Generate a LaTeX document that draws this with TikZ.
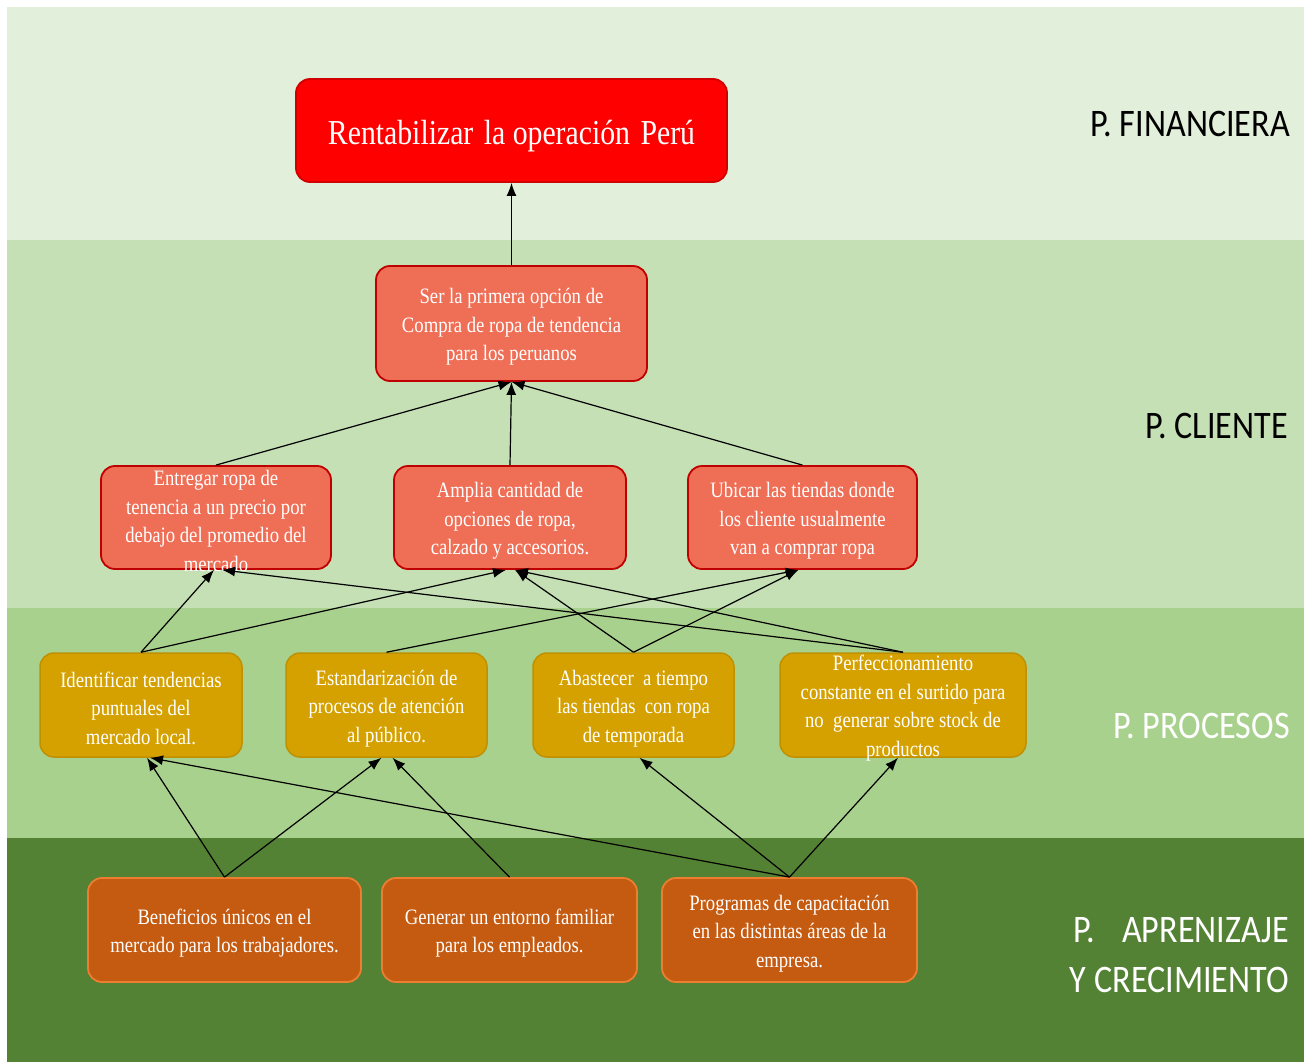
\documentclass[tikz,border=0pt]{standalone}
\usepackage{fontspec}
\setmainfont{Liberation Serif}[FakeStretch=0.85]
\newfontfamily\lblfont{Carlito}[FakeStretch=0.875]
\usetikzlibrary{arrows.meta}
\definecolor{bandA}{HTML}{E2EFDA}
\definecolor{bandB}{HTML}{C5E0B4}
\definecolor{bandC}{HTML}{A9D18E}
\definecolor{bandD}{HTML}{548235}
\definecolor{rentfill}{HTML}{FF0000}
\definecolor{rentdraw}{HTML}{D00000}
\definecolor{clifill}{HTML}{EF6E56}
\definecolor{clidraw}{HTML}{C00000}
\definecolor{profill}{HTML}{D5A100}
\definecolor{prodraw}{HTML}{BF9000}
\definecolor{aprfill}{HTML}{C55A11}
\definecolor{aprdraw}{HTML}{ED7D31}
\newcommand\bt[2]{\smash{\raisebox{-8.5pt}{\parbox[c]{#1}{\centering #2}}}}
\tikzset{
  boxbase/.style={rounded corners=14pt, inner sep=0pt, text=white,
    font=\fontsize{22}{28.5}\selectfont},
  rentbox/.style={boxbase, fill=rentfill, draw=rentdraw, line width=1.8pt,
    font=\fontsize{35}{40}\selectfont},
  clibox/.style={boxbase, fill=clifill, draw=clidraw, line width=1.8pt},
  probox/.style={boxbase, fill=profill, draw=prodraw, line width=1.5pt},
  aprbox/.style={boxbase, fill=aprfill, draw=aprdraw, line width=1.8pt},
  arr/.style={-{Latex[length=13pt,width=10pt]}, line width=1.2pt, black},
  lbl/.style={inner sep=0pt, anchor=base east, font=\lblfont\fontsize{39}{45}\selectfont}
}
\begin{document}
\begin{tikzpicture}[x=1pt,y=-1pt]
\fill[white] (0,0) rectangle (1307,1062);
\useasboundingbox (0,0) rectangle (1307,1062);
\fill[bandA] (7,7) rectangle (1304,240);
\fill[bandB] (7,240) rectangle (1304,608);
\fill[bandC] (7,608) rectangle (1304,838);
\fill[bandD] (7,838) rectangle (1304,1062);

% boxes
\node[rentbox, minimum width=431pt, minimum height=103pt] (rent) at (511.5,130.5)
  {\smash{\raisebox{-14pt}{Rentabilizar\hspace{0.3em}la operación\hspace{0.3em}Perú}}};
\node[clibox, minimum width=271pt, minimum height=115pt] (ser) at (511.5,323.5)
  {\bt{260pt}{Ser la primera opción de\\Compra de ropa de tendencia\\para los peruanos}};
\node[clibox, minimum width=230pt, minimum height=103pt] (c1) at (216,517.5)
  {\bt{225pt}{Entregar ropa de\\tenencia a un precio por\\debajo del promedio del\\mercado}};
\node[clibox, minimum width=232pt, minimum height=103pt] (c2) at (510,517.5)
  {\bt{225pt}{Amplia cantidad de\\opciones de ropa,\\calzado y accesorios.}};
\node[clibox, minimum width=229pt, minimum height=103pt] (c3) at (802.5,517.5)
  {\bt{225pt}{Ubicar las tiendas donde\\los cliente usualmente\\van a comprar ropa}};

\node[probox, minimum width=202pt, minimum height=104pt] (p1) at (141,705)
  {\bt{198pt}{Identificar tendencias\\puntuales del\\mercado local.}};
\node[probox, minimum width=201pt, minimum height=104pt] (p2) at (386.5,705)
  {\bt{198pt}{Estandarización de\\procesos de atención\\al público.}};
\node[probox, minimum width=201pt, minimum height=104pt] (p3) at (633.5,705)
  {\bt{198pt}{Abastecer\ \ a tiempo\\las tiendas\ \ con ropa\\de temporada}};
\node[probox, minimum width=246pt, minimum height=104pt] (p4) at (903,705)
  {\bt{240pt}{Perfeccionamiento\\constante en el surtido para\\no\ \ generar sobre stock de\\productos}};

\node[aprbox, minimum width=273pt, minimum height=104pt] (b1) at (224.5,930)
  {\bt{268pt}{Beneficios únicos en el\\mercado para los trabajadores.}};
\node[aprbox, minimum width=255pt, minimum height=104pt] (b2) at (509.5,930)
  {\bt{250pt}{Generar un entorno familiar\\para los empleados.}};
\node[aprbox, minimum width=255pt, minimum height=104pt] (b3) at (789.5,930)
  {\bt{250pt}{Programas de capacitación\\en las distintas áreas de la\\empresa.}};

% connectors
\draw[arr] (ser.north) -- (rent.south);
\draw[arr] (c1.north) -- (ser.south);
\draw[arr] (c2.north) -- (ser.south);
\draw[arr] (c3.north) -- (ser.south);

\draw[arr] (p1.north) -- ([xshift=-2pt]c1.south);
\draw[arr] (p4.north) -- ([xshift=6pt]c1.south);
\draw[arr] (p1.north) -- ([xshift=-4pt]c2.south);
\draw[arr] (p3.north) -- ([xshift=5pt]c2.south);
\draw[arr] (p4.north) -- ([xshift=5pt]c2.south);
\draw[arr] (p2.north) -- ([xshift=-4pt]c3.south);
\draw[arr] (p3.north) -- ([xshift=-4pt]c3.south);

\draw[arr] (b1.north) -- ([xshift=6pt]p1.south);
\draw[arr] (b3.north) -- ([xshift=9pt]p1.south);
\draw[arr] (b1.north) -- ([xshift=-5pt]p2.south);
\draw[arr] (b2.north) -- ([xshift=6pt]p2.south);
\draw[arr] (b3.north) -- ([xshift=6pt]p3.south);
\draw[arr] (b3.north) -- ([xshift=-5pt]p4.south);

% perspective labels
\node[lbl] (lf) at (1290,137) {P. FINANCIERA};
\node[lbl] (lc) at (1288,438) {P. CLIENTE};
\node[lbl, text=white] (lp) at (1290,738) {P. PROCESOS};
\node[lbl, text=white] (la1) at (1289,942) {P.\hspace{27pt}APRENIZAJE};
\node[lbl, text=white] (la2) at (1289,992) {Y CRECIMIENTO};
\end{tikzpicture}
\end{document}
